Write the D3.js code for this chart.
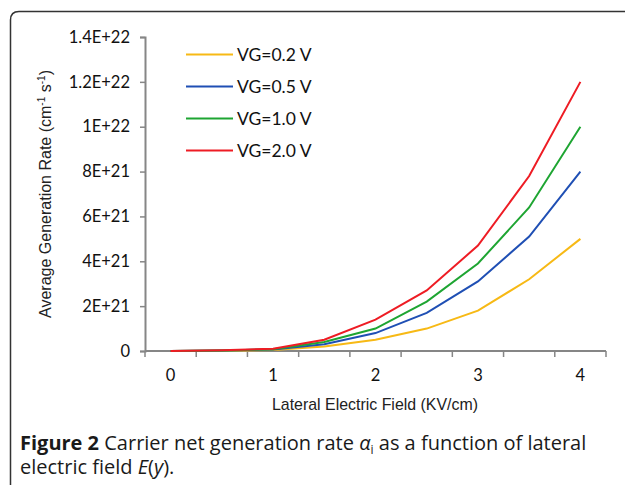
<!DOCTYPE html>
<html>
<head>
<meta charset="utf-8">
<script src="https://cdn.jsdelivr.net/npm/d3@7"></script>
<style>
  body { margin: 0; background: #fff; }
</style>
</head>
<body>
<div id="chart"></div>
<script>
var w = 625,
    h = 485;

// categories (lateral field, KV/cm)
var fieldValues = [0, 0.5, 1, 1.5, 2, 2.5, 3, 3.5, 4];
var xTickLabels = ['0', '1', '2', '3', '4'];

// series values (cm^-1 s^-1)
var vg02 = [0, 0.01e21, 0.05e21, 0.2e21, 0.5e21, 1.0e21, 1.8e21, 3.2e21, 5.0e21];
var vg05 = [0, 0.02e21, 0.07e21, 0.3e21, 0.8e21, 1.7e21, 3.1e21, 5.1e21, 8.0e21];
var vg10 = [0, 0.02e21, 0.08e21, 0.4e21, 1.0e21, 2.2e21, 3.9e21, 6.4e21, 10.0e21];
var vg20 = [0, 0.03e21, 0.1e21, 0.5e21, 1.4e21, 2.7e21, 4.7e21, 7.8e21, 12.0e21];

var seriesNames = ['VG=0.2 V', 'VG=0.5 V', 'VG=1.0 V', 'VG=2.0 V'];
var seriesColors = ['#f7b915', '#1f4fb4', '#1ea532', '#ee1c24'];

var yTickValues = [0, 2e21, 4e21, 6e21, 8e21, 1e22, 1.2e22, 1.4e22];
var yTickLabels = ['0', '2E+21', '4E+21', '6E+21', '8E+21', '1E+22', '1.2E+22', '1.4E+22'];

var series = [vg02, vg05, vg10, vg20].map(function(v, i) {
  return { name: seriesNames[i], color: seriesColors[i], values: v };
});

var svg = d3.select('#chart').append('svg')
  .attr('width', w)
  .attr('height', h);

// frame, rounded top-left corner only
svg.append('path')
  .attr('d', 'M10.5,' + (h + 2) + ' L10.5,20 Q10.5,11.5 19,11.5 L' + (w + 2) + ',11.5')
  .attr('fill', 'none')
  .attr('stroke', '#333')
  .attr('stroke-width', 1.5);

// scales
var x0 = 145, x1 = 606;
var x = d3.scaleBand()
  .domain(fieldValues)
  .range([x0, x1]);

var y = d3.scaleLinear()
  .domain([0, 1.4e22])
  .range([351, 37]);

var axisColor = '#868686';
var tickFont = 'Lato, Open Sans, sans-serif';

// y axis
var yAxis = svg.append('g')
  .attr('transform', 'translate(' + x0 + ',0)')
  .call(d3.axisLeft(y)
    .tickValues(yTickValues)
    .tickSize(5)
    .tickPadding(10)
    .tickFormat(function(d, i) { return yTickLabels[i]; }));

// x axis (boundary ticks like a category axis)
var boundaries = d3.range(fieldValues.length + 1).map(function(i) { return x0 + i * x.step(); });
var xAxis = svg.append('g')
  .attr('transform', 'translate(0,' + y(0) + ')');
xAxis.append('line')
  .attr('x1', x0).attr('x2', x1)
  .attr('stroke', axisColor).attr('stroke-width', 2);
xAxis.selectAll('line.tk')
  .data(boundaries)
  .enter()
  .append('line')
  .attr('class', 'tk')
  .attr('x1', function(d) { return d; })
  .attr('x2', function(d) { return d; })
  .attr('y1', 0).attr('y2', 6)
  .attr('stroke', axisColor).attr('stroke-width', 1.5);
xAxis.selectAll('text')
  .data(xTickLabels)
  .enter()
  .append('text')
  .attr('x', function(d) { return x(+d) + x.bandwidth() / 2; })
  .attr('y', 30)
  .attr('text-anchor', 'middle')
  .attr('font-family', tickFont)
  .attr('font-size', '16.5px')
  .attr('fill', '#111')
  .text(function(d) { return d; });

yAxis.select('.domain').attr('stroke', axisColor).attr('stroke-width', 2);
yAxis.selectAll('.tick line').attr('stroke', axisColor).attr('stroke-width', 1.5);
yAxis.selectAll('.tick text')
  .attr('font-family', tickFont)
  .attr('font-size', '16.5px')
  .attr('fill', '#111');

// lines
var line = d3.line()
  .x(function(d, i) { return x(fieldValues[i]) + x.bandwidth() / 2; })
  .y(function(d) { return y(d); });

svg.selectAll('path.series')
  .data(series)
  .enter()
  .append('path')
  .attr('class', 'series')
  .attr('fill', 'none')
  .attr('stroke', function(d) { return d.color; })
  .attr('stroke-width', 2)
  .attr('d', function(d) { return line(d.values); });

// legend
var legend = svg.append('g')
  .attr('transform', 'translate(186,54.5)');
legend.selectAll('line')
  .data(series)
  .enter()
  .append('line')
  .attr('x1', 0).attr('x2', 47)
  .attr('y1', function(d, i) { return i * 32; })
  .attr('y2', function(d, i) { return i * 32; })
  .attr('stroke', function(d) { return d.color; })
  .attr('stroke-width', 2);
legend.selectAll('text')
  .data(series)
  .enter()
  .append('text')
  .attr('x', 51)
  .attr('y', function(d, i) { return i * 32 + 6.5; })
  .attr('font-family', tickFont)
  .attr('font-size', '17.5px')
  .attr('fill', '#111')
  .text(function(d) { return d.name; });

// y axis title
var yTitle = svg.append('text')
  .attr('transform', 'translate(51,194) rotate(-90)')
  .attr('text-anchor', 'middle')
  .attr('font-family', 'Liberation Sans, Arial, sans-serif')
  .attr('font-size', '16px')
  .attr('textLength', 248)
  .attr('lengthAdjust', 'spacingAndGlyphs')
  .attr('fill', '#222');
yTitle.append('tspan').text('Average Generation Rate (cm');
yTitle.append('tspan').attr('dy', -6).attr('font-size', '10px').text('-1');
yTitle.append('tspan').attr('dy', 6).text(' s');
yTitle.append('tspan').attr('dy', -6).attr('font-size', '10px').text('-1');
yTitle.append('tspan').attr('dy', 6).text(')');

// x axis title
svg.append('text')
  .attr('x', 375)
  .attr('y', 410)
  .attr('text-anchor', 'middle')
  .attr('font-family', 'Liberation Sans, Arial, sans-serif')
  .attr('font-size', '17px')
  .attr('textLength', 206)
  .attr('lengthAdjust', 'spacingAndGlyphs')
  .attr('fill', '#222')
  .text('Lateral Electric Field (KV/cm)');

// caption
var capFont = 'Open Sans, Noto Sans, sans-serif';
var cap1 = svg.append('text')
  .attr('x', 20).attr('y', 450)
  .attr('font-family', capFont)
  .attr('font-size', '20px')
  .attr('fill', '#1a1a1a');
cap1.append('tspan').attr('font-weight', 'bold').text('Figure 2');
cap1.append('tspan').text(' Carrier net generation rate ');
cap1.append('tspan').attr('font-style', 'italic').text('α');
cap1.append('tspan').attr('font-size', '12px').attr('dy', 4).text('i');
cap1.append('tspan').attr('dy', -4).text(' as a function of lateral');

var cap2 = svg.append('text')
  .attr('x', 20).attr('y', 474)
  .attr('font-family', capFont)
  .attr('font-size', '20px')
  .attr('fill', '#1a1a1a');
cap2.append('tspan').text('electric field ');
cap2.append('tspan').attr('font-style', 'italic').text('E');
cap2.append('tspan').text('(');
cap2.append('tspan').attr('font-style', 'italic').text('y');
cap2.append('tspan').text(').');
</script>
</body>
</html>
